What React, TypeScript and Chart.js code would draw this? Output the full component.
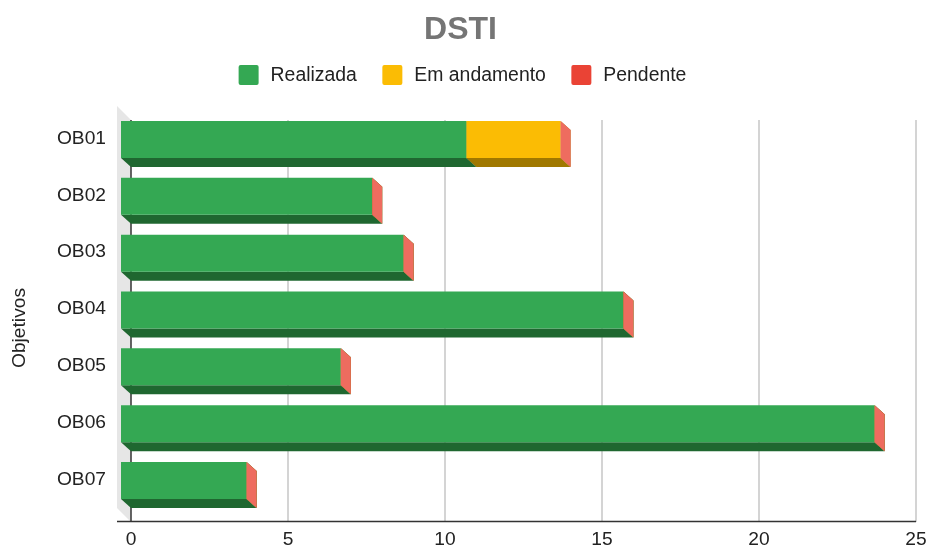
import React, { useEffect, useRef } from "react";
import { Chart, registerables } from "chart.js";

Chart.register(...registerables);

const FONT = '"Liberation Sans", Arial, sans-serif';

const categories = ["OB01", "OB02", "OB03", "OB04", "OB05", "OB06", "OB07"];
const realizada = [11, 8, 9, 16, 7, 24, 4];
const emAndamento = [3, 0, 0, 0, 0, 0, 0];
const pendente = [0, 0, 0, 0, 0, 0, 0];
const xTicksMax = 25;
const xTicksStep = 5;
const titleText = "DSTI";
const yAxisTitle = "Objetivos";

const faceColors = [
  { front: "#34a853", bottom: "#1f6730", side: "#1f6730" },
  { front: "#fbbc04", bottom: "#a07800", side: "#a07800" },
  { front: "#ea4335", bottom: "#a02a20", side: "#ee6c5f" },
];

const DEPTH_X = 10;
const DEPTH_Y = 9;

function poly(ctx: CanvasRenderingContext2D, pts: number[][], fill: string) {
  ctx.fillStyle = fill;
  ctx.beginPath();
  pts.forEach(([x, y], i) => (i ? ctx.lineTo(x, y) : ctx.moveTo(x, y)));
  ctx.closePath();
  ctx.fill();
}

const scene3d = {
  id: "scene3d",
  beforeDatasetsDraw(chart: any) {
    const { ctx, chartArea, scales } = chart;
    const zero = scales.x.getPixelForValue(0);
    const backTop = chartArea.top + DEPTH_Y;
    const backBottom = 522;
    ctx.save();
    // side wall
    poly(
      ctx,
      [
        [zero - 14, backTop - 14],
        [zero, backTop],
        [zero, backBottom],
        [zero - 14, backBottom - 14],
      ],
      "#e6e6e6"
    );
    // grid lines
    ctx.lineWidth = 1.5;
    ctx.strokeStyle = "#c6c6c6";
    scales.x.ticks.forEach((t: any) => {
      if (t.value === 0) return;
      const px = scales.x.getPixelForValue(t.value);
      ctx.beginPath();
      ctx.moveTo(px, backTop);
      ctx.lineTo(px, backBottom);
      ctx.stroke();
    });
    // axis lines
    ctx.strokeStyle = "#333333";
    ctx.beginPath();
    ctx.moveTo(zero, backTop);
    ctx.lineTo(zero, backBottom);
    ctx.stroke();
    ctx.beginPath();
    ctx.moveTo(zero - 14, backBottom - 0.5);
    ctx.lineTo(chartArea.right, backBottom - 0.5);
    ctx.stroke();
    // bars
    chart.data.datasets.forEach((_: any, di: number) => {
      const meta = chart.getDatasetMeta(di);
      const c = faceColors[di];
      meta.data.forEach((el: any) => {
        const l = Math.min(el.base, el.x) - DEPTH_X;
        const r = Math.max(el.base, el.x) - DEPTH_X;
        const t = el.y - el.height / 2;
        const b = el.y + el.height / 2;
        poly(ctx, [[r, t], [r + DEPTH_X, t + DEPTH_Y], [r + DEPTH_X, b + DEPTH_Y], [r, b]], c.side);
        if (r > l) {
          poly(ctx, [[l, b], [r, b], [r + DEPTH_X, b + DEPTH_Y], [l + DEPTH_X, b + DEPTH_Y]], c.bottom);
          poly(ctx, [[l, t], [r, t], [r, b], [l, b]], c.front);
        }
      });
    });
    // y axis title
    ctx.fillStyle = "#222222";
    ctx.font = `19.2px ${FONT}`;
    ctx.textAlign = "center";
    ctx.textBaseline = "middle";
    ctx.translate(19.5, 328);
    ctx.rotate(-Math.PI / 2);
    ctx.fillText(yAxisTitle, 0, 0);
    ctx.restore();
    ctx.save();
    // legend row
    ctx.font = `19.4px ${FONT}`;
    ctx.textBaseline = "middle";
    ctx.textAlign = "left";
    const boxSize = 20;
    const textGap = 12;
    const itemGap = 25.5;
    const items = chart.data.datasets.map((d: any) => ({
      label: d.label,
      color: d.backgroundColor,
      w: ctx.measureText(d.label).width,
    }));
    const total =
      items.reduce((s: number, it: any) => s + boxSize + textGap + it.w, 0) + itemGap * (items.length - 1);
    let x = 462.5 - total / 2;
    const cy = 75;
    items.forEach((it: any) => {
      ctx.fillStyle = it.color;
      ctx.beginPath();
      ctx.roundRect(x, cy - boxSize / 2, boxSize, boxSize, 2);
      ctx.fill();
      ctx.fillStyle = "#222222";
      ctx.fillText(it.label, x + boxSize + textGap, cy + 0.5);
      x += boxSize + textGap + it.w + itemGap;
    });
    ctx.restore();
    return false;
  },
};

export default function App() {
  const ref = useRef<HTMLCanvasElement>(null);
  useEffect(() => {
    if (!ref.current) return;
    Chart.defaults.font.family = FONT;
    const chart = new Chart(ref.current, {
      type: "bar",
      data: {
        labels: categories,
        datasets: [
          { label: "Realizada", data: realizada, backgroundColor: faceColors[0].front, barThickness: 37 },
          { label: "Em andamento", data: emAndamento, backgroundColor: faceColors[1].front, barThickness: 37 },
          { label: "Pendente", data: pendente, backgroundColor: faceColors[2].front, barThickness: 37 },
        ],
      },
      options: {
        indexAxis: "y",
        responsive: false,
        animation: false,
        layout: { padding: { left: 5, right: 12, top: 0, bottom: 0 } },
        plugins: {
          legend: { display: false },
          tooltip: { enabled: false },
          title: {
            display: true,
            text: titleText,
            color: "#757575",
            font: { size: 32, weight: "bold", family: FONT },
            padding: { top: 11, bottom: 61.6 },
          },
        },
        scales: {
          x: {
            type: "linear",
            stacked: true,
            min: 0,
            max: xTicksMax,
            grid: { display: false, drawTicks: false },
            border: { display: false },
            ticks: {
              stepSize: xTicksStep,
              color: "#222222",
              font: { size: 19.2, family: FONT },
              padding: 19,
              maxRotation: 0,
            },
            afterFit(scale: any) {
              scale.height = 38;
              scale.paddingRight = 0;
              scale.paddingLeft = 0;
            },
          },
          y: {
            type: "category",
            stacked: true,
            grid: { display: false, drawTicks: false },
            border: { display: false },
            ticks: {
              color: "#222222",
              font: { size: 19.2, family: FONT },
              padding: 25,
              labelOffset: -1,
            },
            afterFit(scale: any) {
              scale.width = 126;
            },
          },
        },
      },
      plugins: [scene3d],
    } as any);
    return () => chart.destroy();
  }, []);
  return (
    <div style={{ position: "fixed", left: 0, top: 0, width: 928, height: 547, background: "#fff" }}>
      <canvas ref={ref} width={928} height={547} style={{ display: "block" }} />
    </div>
  );
}
